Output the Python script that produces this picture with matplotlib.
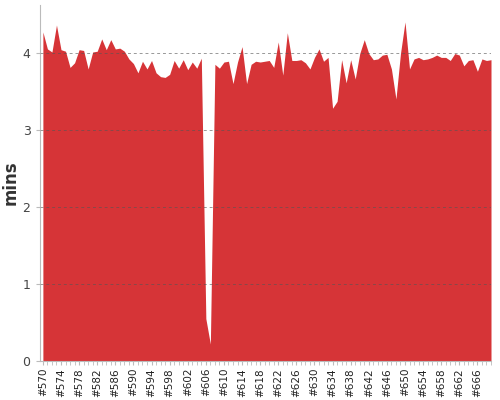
import numpy as np
from matplotlib import pyplot as plt
from matplotlib.ticker import MultipleLocator

# build numbers #570 .. #669
builds = list(range(570, 670))
mins = [
    4.27, 4.05, 4.01, 4.36, 4.04, 4.02, 3.81, 3.87, 4.04, 4.03,
    3.79, 4.01, 4.02, 4.18, 4.04, 4.17, 4.05, 4.06, 4.02, 3.92,
    3.86, 3.74, 3.89, 3.79, 3.90, 3.74, 3.69, 3.68, 3.72, 3.90,
    3.80, 3.91, 3.78, 3.88, 3.80, 3.93, 0.55, 0.22, 3.85, 3.80,
    3.88, 3.89, 3.60, 3.88, 4.08, 3.60, 3.85, 3.89, 3.88, 3.89,
    3.90, 3.81, 4.14, 3.71, 4.26, 3.90, 3.90, 3.91, 3.87, 3.79,
    3.94, 4.05, 3.89, 3.94, 3.28, 3.37, 3.91, 3.61, 3.91, 3.66,
    3.99, 4.17, 3.99, 3.91, 3.92, 3.97, 3.98, 3.79, 3.40, 3.99,
    4.40, 3.79, 3.92, 3.94, 3.91, 3.92, 3.94, 3.97, 3.94, 3.94,
    3.90, 3.99, 3.97, 3.83, 3.90, 3.91, 3.76, 3.92, 3.90, 3.91,
]
label_step = 4

fig = plt.figure(figsize=(5, 4), dpi=100)
ax = fig.add_axes([0.079, 0.0975, 0.903, 0.89])

ax.fill_between(builds, mins, 0, color="#d63437", linewidth=0)

ax.set_xlim(569.25, 669)
ax.set_ylim(0, 4.62)
ax.set_yticks([0, 1, 2, 3, 4])
ax.yaxis.grid(True, linestyle=(0, (3, 3)), color="#555555", alpha=0.6, linewidth=0.7)
ax.set_axisbelow(False)

ticks = builds[::label_step]
ax.set_xticks(ticks)
ax.set_xticklabels(["#%d" % b for b in ticks], rotation=90, fontsize=7.5, color="#222222")
ax.xaxis.set_minor_locator(MultipleLocator(1))
ax.tick_params(axis="x", which="both", length=3, color="#bbbbbb", pad=2)
ax.tick_params(axis="y", length=3, color="#bbbbbb", labelsize=9, labelcolor="#444444")

for side in ("top", "right"):
    ax.spines[side].set_visible(False)
for side in ("left", "bottom"):
    ax.spines[side].set_color("#bbbbbb")

ax.set_ylabel("mins", fontsize=12, color="#333333", fontweight="bold")
ax.yaxis.set_label_coords(-0.043, 0.5)

fig.savefig("out.png")
